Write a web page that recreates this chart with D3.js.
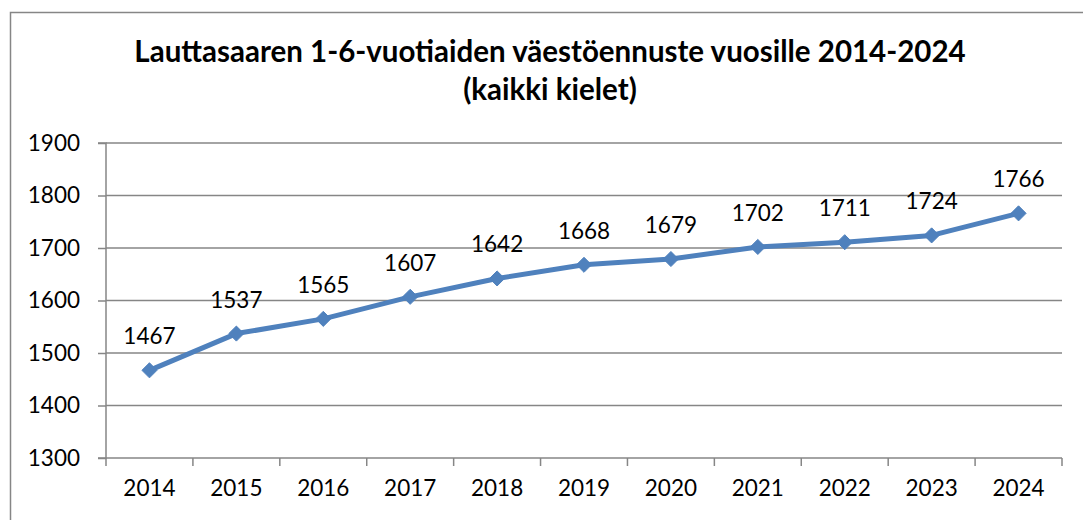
<!DOCTYPE html>
<html>
<head>
<meta charset="utf-8">
<script src="https://cdn.jsdelivr.net/npm/d3@7"></script>
<style>
  html, body { margin: 0; padding: 0; background: #fff; }
  svg { display: block; }
  text { font-family: Lato, "Open Sans", sans-serif; fill: #000; }
</style>
</head>
<body>
<svg id="chart" width="1083" height="520"></svg>
<script>
// Population forecast, children aged 1-6 in Lauttasaari
const years = ["2014", "2015", "2016", "2017", "2018", "2019", "2020", "2021", "2022", "2023", "2024"];
const population = [1467, 1537, 1565, 1607, 1642, 1668, 1679, 1702, 1711, 1724, 1766];
const yTicks = [1300, 1400, 1500, 1600, 1700, 1800, 1900];
const titleLines = ["Lauttasaaren 1-6-vuotiaiden väestöennuste vuosille 2014-2024", "(kaikki kielet)"];

const svg = d3.select("#chart");
const W = 1083, H = 520;
const plot = { left: 106, right: 1062, top: 143, bottom: 458 };
const gridColor = "#868686";
const lineColor = "#4F81BD";

// Outer chart frame
svg.append("rect")
  .attr("x", 10.5).attr("y", 12.5)
  .attr("width", W + 20).attr("height", H + 20)
  .attr("fill", "none").attr("stroke", gridColor).attr("stroke-width", 1.5);

// Title
const title = svg.append("text")
  .attr("text-anchor", "middle")
  .style("font-weight", "bold")
  .style("font-size", "29.5px");
title.selectAll("tspan").data(titleLines).join("tspan")
  .attr("x", 550)
  .attr("y", (d, i) => 62 + i * 38)
  .text(d => d);

const x = d3.scaleBand().domain(years).range([plot.left, plot.right]);
const y = d3.scaleLinear().domain([1300, 1900]).range([plot.bottom, plot.top]);

// Horizontal gridlines
svg.append("g")
  .selectAll("line").data(yTicks.filter(v => v !== 1300)).join("line")
  .attr("x1", plot.left).attr("x2", plot.right)
  .attr("y1", d => y(d)).attr("y2", d => y(d))
  .attr("stroke", gridColor).attr("stroke-width", 1.5);

// Y axis
const yAxis = svg.append("g")
  .attr("transform", `translate(${plot.left},0)`)
  .call(d3.axisLeft(y).tickValues(yTicks).tickSize(8).tickPadding(18).tickFormat(d3.format("d")));
yAxis.selectAll("line, path").attr("stroke", gridColor).attr("stroke-width", 1.5);
yAxis.select(".domain").attr("d", `M-8,${plot.top}H0V${plot.bottom}H-8`);
yAxis.selectAll("text").style("font-size", "22.5px").style("font-family", "Lato, sans-serif");

// X axis
const xAxis = svg.append("g")
  .attr("transform", `translate(0,${plot.bottom})`)
  .call(d3.axisBottom(x).tickSize(0).tickPadding(22));
xAxis.select(".domain").attr("stroke", gridColor).attr("stroke-width", 1.5)
  .attr("d", `M${plot.left},0H${plot.right}`);
xAxis.selectAll("text").style("font-size", "22.5px").style("font-family", "Lato, sans-serif");
// Category boundary ticks
const boundaries = years.map(d => x(d)).concat([x(years[years.length - 1]) + x.bandwidth()]);
xAxis.append("g").selectAll("line").data(boundaries).join("line")
  .attr("x1", d => d).attr("x2", d => d)
  .attr("y1", 0).attr("y2", 8)
  .attr("stroke", gridColor).attr("stroke-width", 1.5);

const cx = d => x(d) + x.bandwidth() / 2;
const series = years.map((yr, i) => ({ year: yr, value: population[i] }));

// Line
svg.append("path")
  .datum(series)
  .attr("fill", "none")
  .attr("stroke", lineColor)
  .attr("stroke-width", 5)
  .attr("stroke-linejoin", "round")
  .attr("d", d3.line().x(d => cx(d.year)).y(d => y(d.value)));

// Diamond markers
const diamond = d3.symbol().type(d3.symbolDiamond2).size(145);
svg.append("g").selectAll("path").data(series).join("path")
  .attr("d", diamond)
  .attr("transform", d => `translate(${cx(d.year)},${y(d.value)})`)
  .attr("fill", lineColor).attr("stroke", lineColor).attr("stroke-width", 1);

// Value labels
svg.append("g").selectAll("text").data(series).join("text")
  .attr("x", d => cx(d.year))
  .attr("y", d => y(d.value) - 26)
  .attr("text-anchor", "middle")
  .style("font-size", "22.5px")
  .text(d => d.value);
</script>
</body>
</html>
